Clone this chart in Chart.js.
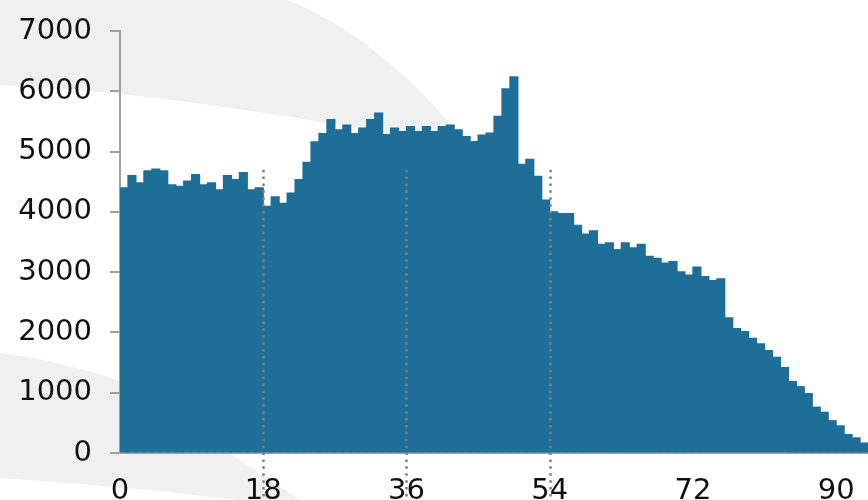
<!DOCTYPE html>
<html>
<head>
<meta charset="utf-8">
<script src="https://cdn.jsdelivr.net/npm/chart.js@4.4.1/dist/chart.umd.min.js"></script>
<style>
  html, body { margin: 0; padding: 0; background: #fff; }
  #wrap { width: 868px; height: 500px; position: relative; }
</style>
</head>
<body>
<div id="wrap"><canvas id="chart"></canvas></div>
<script>
// counts per single year of age, 0 .. 93
const ages = []
for (let a = 0; a < 94; a++) ages.push(a)
const counts = [
  4400, 4600, 4480, 4680, 4710, 4680, 4450, 4425, 4510, 4620,
  4450, 4480, 4365, 4600, 4535, 4650, 4365, 4400, 4090, 4250,
  4140, 4310, 4535, 4820, 5160, 5300, 5530, 5360, 5440, 5300,
  5390, 5530, 5640, 5280, 5390, 5330, 5415, 5330, 5415, 5330,
  5415, 5440, 5360, 5250, 5165, 5275, 5305, 5585, 6040, 6240,
  4790, 4870, 4590, 4195, 4000, 3970, 3970, 3775, 3630, 3685,
  3460, 3485, 3375, 3485, 3405, 3460, 3260, 3230, 3150, 3175,
  3005, 2950, 3085, 2925, 2860, 2890, 2240, 2065, 2015, 1900,
  1810, 1700, 1585, 1415, 1185, 1100, 985, 760, 675, 535,
  450, 305, 250, 165
]
const xTicks = [0, 18, 36, 54, 72, 90]
const yTicks = [0, 1000, 2000, 3000, 4000, 5000, 6000, 7000]
const markerAges = [18, 36, 54]
const markerTop = 4700

const AXIS_GRAY = '#a0a0a0'
const FONT = { family: '"DejaVu Sans", Verdana, sans-serif', size: 29 }

// faint grey swooshes behind the chart
const backdrop = {
  id: 'backdrop',
  beforeDraw(chart) {
    const c = chart.ctx
    c.save()
    c.fillStyle = '#f0f0f0'
    c.beginPath()
    c.moveTo(0, 0)
    c.lineTo(288, 0)
    c.bezierCurveTo(350, 25, 420, 80, 470, 150)
    c.bezierCurveTo(380, 130, 150, 90, 0, 85)
    c.closePath()
    c.fill()

    c.beginPath()
    c.moveTo(0, 353)
    c.bezierCurveTo(70, 362, 150, 385, 200, 420)
    c.lineTo(232, 455)
    c.lineTo(300, 500)
    c.lineTo(0, 500)
    c.closePath()
    c.fill()

    c.fillStyle = '#fff'
    c.beginPath()
    c.moveTo(0, 478)
    c.quadraticCurveTo(120, 486, 240, 500)
    c.lineTo(0, 500)
    c.closePath()
    c.fill()
    c.restore()
  }
}

// dotted age-band markers, drawn over bars and labels
const markers = {
  id: 'markers',
  afterDraw(chart) {
    const x = chart.scales.x, y = chart.scales.y
    const c = chart.ctx
    c.save()
    c.strokeStyle = '#7f7f7f'
    c.lineWidth = 2.5
    c.setLineDash([2.5, 4.4])
    markerAges.forEach(a => {
      const px = Math.round(x.getPixelForValue(a)) + 0.5
      c.beginPath()
      c.moveTo(px, y.getPixelForValue(markerTop))
      c.lineTo(px, chart.height)
      c.stroke()
    })
    c.restore()
  }
}

new Chart(document.getElementById('chart'), {
  type: 'bar',
  data: {
    datasets: [{
      data: ages.map((a, i) => ({ x: a + 0.5, y: counts[i] })),
      backgroundColor: '#1e6f98',
      borderWidth: 0,
      inflateAmount: 0.6,
      barPercentage: 1.0,
      categoryPercentage: 1.0
    }]
  },
  options: {
    responsive: true,
    maintainAspectRatio: false,
    animation: false,
    layout: { padding: { top: 31, left: 0, right: 0, bottom: 0 } },
    plugins: { legend: { display: false }, tooltip: { enabled: false } },
    scales: {
      x: {
        type: 'linear',
        offset: false,
        min: 0,
        max: 94,
        afterBuildTicks: s => { s.ticks = xTicks.map(v => ({ value: v })) },
        afterFit: s => { s.height = 47; s.paddingLeft = 0; s.paddingRight = 0 },
        grid: { display: false, drawTicks: false, offset: false },
        border: { display: true, color: AXIS_GRAY, width: 2 },
        ticks: { color: '#111', font: FONT, padding: 21, maxRotation: 0, autoSkip: false }
      },
      y: {
        min: 0,
        max: 7000,
        afterBuildTicks: s => { s.ticks = yTicks.map(v => ({ value: v })) },
        afterFit: s => { s.width = 120; s.paddingTop = 0; s.paddingBottom = 0 },
        grid: { drawOnChartArea: false, drawTicks: true, tickLength: 10, color: AXIS_GRAY, lineWidth: 2 },
        border: { display: true, color: AXIS_GRAY, width: 2 },
        ticks: { color: '#111', font: FONT, padding: 18, callback: v => String(v) }
      }
    }
  },
  plugins: [backdrop, markers]
})
</script>
</body>
</html>
